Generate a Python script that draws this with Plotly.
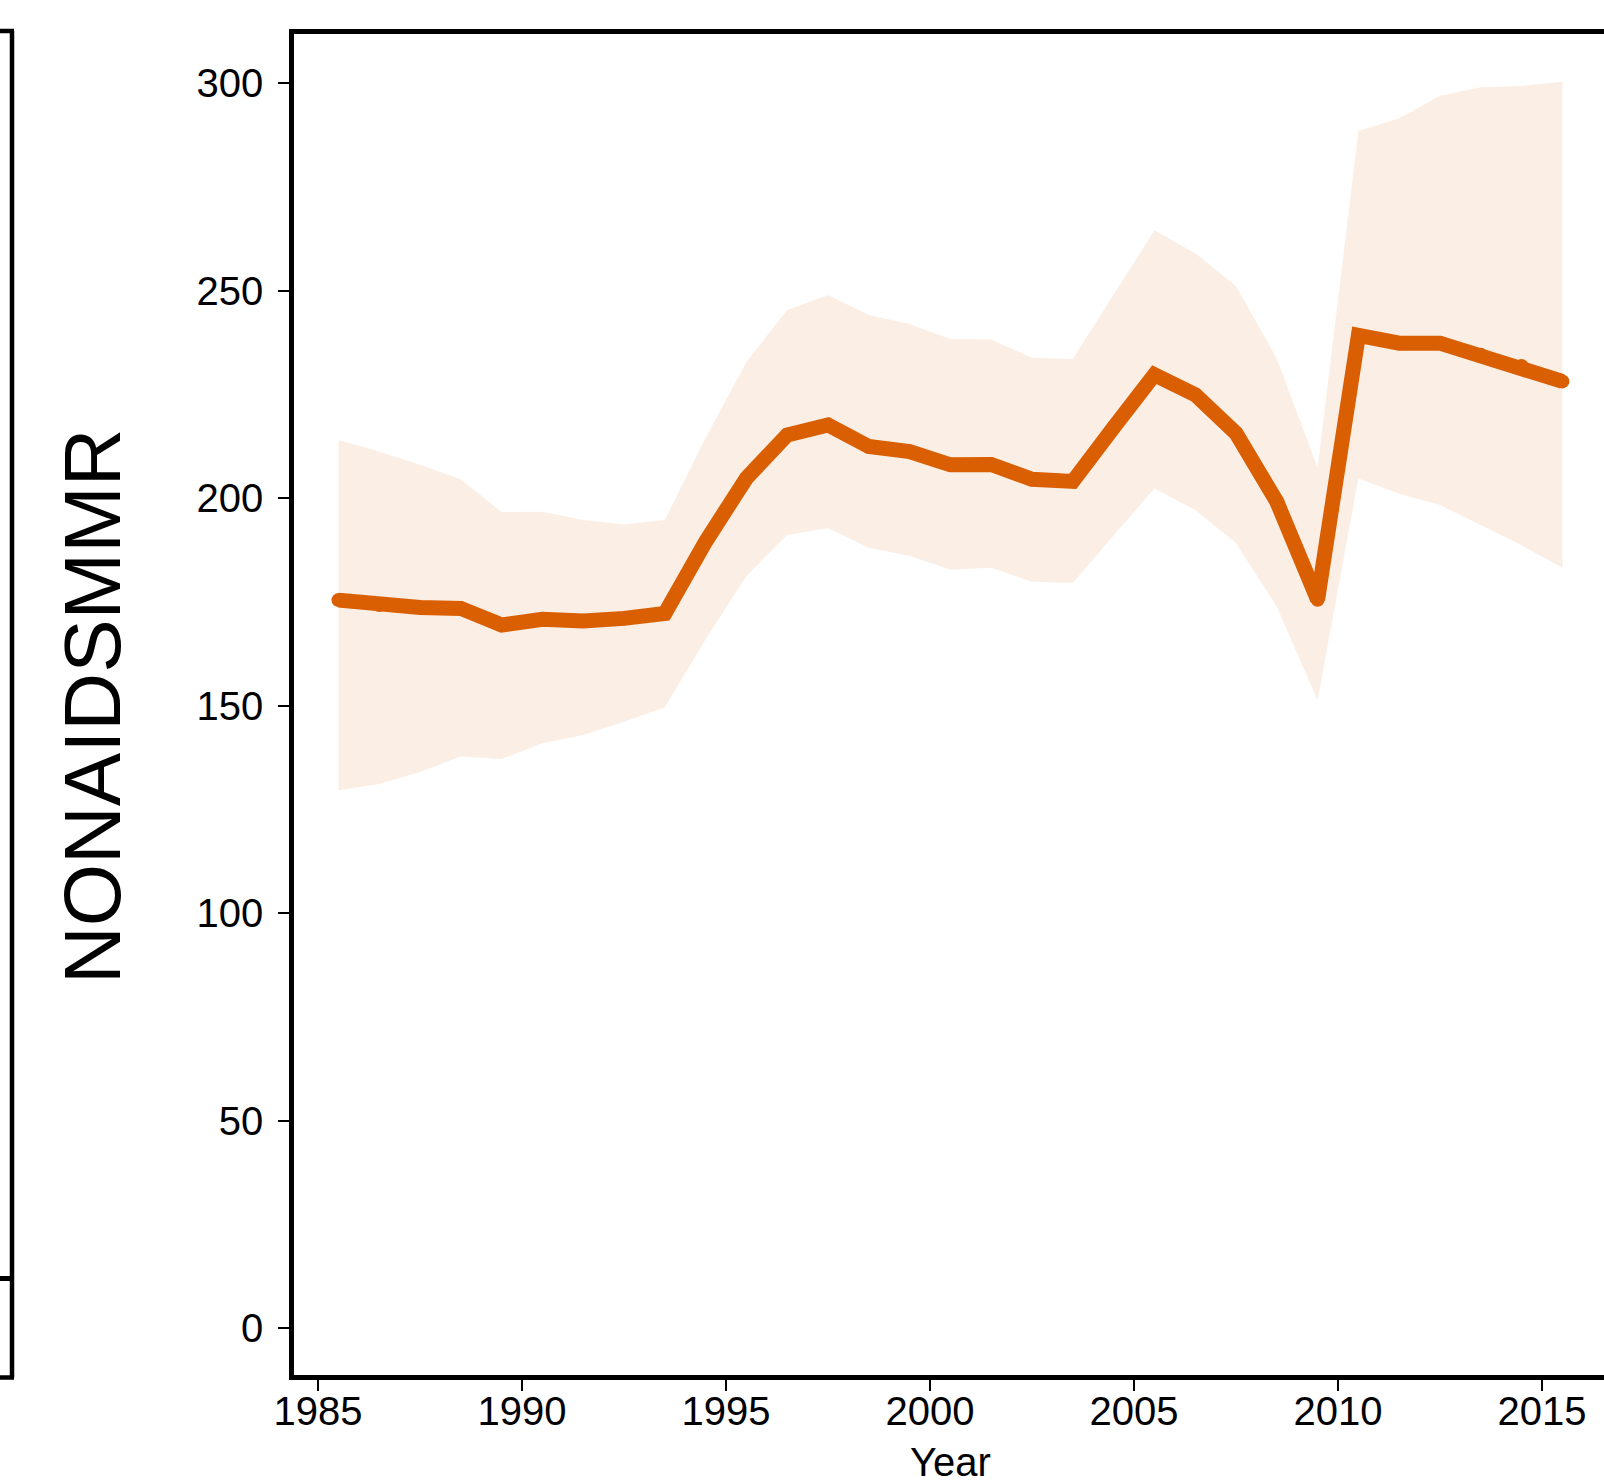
import plotly.graph_objects as go

# data
year = [1985.5, 1986.5, 1987.5, 1988.5, 1989.5, 1990.5, 1991.5, 1992.5, 1993.5, 1994.5,
        1995.5, 1996.5, 1997.5, 1998.5, 1999.5, 2000.5, 2001.5, 2002.5, 2003.5, 2004.5,
        2005.5, 2006.5, 2007.5, 2008.5, 2009.5, 2010.5, 2011.5, 2012.5, 2013.5, 2014.5, 2015.5]
mmr = [175.4, 174.2, 173.6, 173.4, 169.4, 170.8, 170.4, 171.0, 172.2, 189.5,
       204.8, 215.2, 217.6, 212.4, 211.2, 208.0, 208.1, 204.5, 204.0, 217.0,
       229.7, 224.9, 215.6, 199.1, 175.5, 239.2, 237.3, 237.3, 234.5, 231.8, 228.1]
mmr_hi = [214.0, 211.2, 208.0, 204.5, 196.6, 196.7, 194.7, 193.7, 194.7, 214.5,
          232.8, 245.3, 248.9, 244.1, 241.9, 238.3, 238.2, 233.8, 233.5, 249.0,
          264.5, 259.0, 251.1, 233.6, 207.3, 288.4, 291.5, 296.9, 299.0, 299.3, 300.3]
mmr_lo = [129.6, 131.1, 134.0, 137.7, 137.1, 140.9, 142.9, 146.1, 149.6, 166.0,
          181.2, 191.1, 192.7, 188.0, 186.0, 182.7, 183.2, 179.8, 179.6, 191.0,
          202.3, 197.1, 189.1, 173.8, 151.3, 204.7, 201.0, 198.3, 193.4, 188.6, 183.2]
xticks = [1985, 1990, 1995, 2000, 2005, 2010, 2015]
yticks = [0, 50, 100, 150, 200, 250, 300]

orange = "rgb(217,95,2)"
band = "rgba(217,95,2,0.1)"
FONT = "Liberation Sans, Arial, sans-serif"

# plot area in pixels
L, T, R, B = 294, 34, 1604, 1375
def px(x):
    return (x - L) / (R - L)
def py(y):
    return (B - y) / (B - T)

fig = go.Figure()
fig.add_trace(go.Scatter(x=year, y=mmr_lo, mode="lines", line=dict(width=0),
                         showlegend=False, hoverinfo="skip"))
fig.add_trace(go.Scatter(x=year, y=mmr_hi, mode="lines", line=dict(width=0),
                         fill="tonexty", fillcolor=band, showlegend=False, hoverinfo="skip"))
# markers about the line's width give it round joins and ends
fig.add_trace(go.Scatter(x=year, y=mmr, mode="lines+markers",
                         line=dict(color=orange, width=15),
                         marker=dict(color=orange, size=14, line=dict(width=0)),
                         showlegend=False))

fig.update_layout(width=1604, height=1484, plot_bgcolor="white", paper_bgcolor="white",
                  margin=dict(l=L, r=1604 - R, t=T, b=1484 - B),
                  font=dict(family=FONT, size=40, color="black"))
fig.update_xaxes(range=[1984.41, 2016.52], tickvals=xticks, ticktext=[str(v) for v in xticks],
                 showgrid=False, zeroline=False, showline=True, linecolor="black", linewidth=4.5,
                 mirror=True, ticks="outside", ticklen=11, tickwidth=1.5, tickcolor="black",
                 tickfont=dict(size=40), ticklabelstandoff=-14)
fig.update_yaxes(range=[-11.3, 311.8], tickvals=yticks, ticktext=[str(v) for v in yticks],
                 showgrid=False, zeroline=False, showline=True, linecolor="black", linewidth=4.5,
                 mirror=False, ticks="outside", ticklen=11, tickwidth=1.5, tickcolor="black",
                 tickfont=dict(size=40), ticklabelstandoff=7)

# axis titles
fig.add_annotation(text="Year", xref="paper", yref="paper", x=px(950), y=py(1438),
                   xanchor="center", yanchor="top", showarrow=False, font=dict(size=40))
fig.add_annotation(text="NONAIDSMMR", xref="paper", yref="paper", x=px(92), y=py(706),
                   xanchor="center", yanchor="middle", textangle=-90, showarrow=False,
                   font=dict(size=80))

# edge of the neighbouring panel on the left
frame = dict(color="black", width=4.5)
fig.add_shape(type="line", xref="paper", yref="paper", x0=px(12), x1=px(12), y0=py(31), y1=py(1377.5), line=frame)
fig.add_shape(type="line", xref="paper", yref="paper", x0=px(-5), x1=px(14), y0=py(31), y1=py(31), line=frame)
fig.add_shape(type="line", xref="paper", yref="paper", x0=px(-5), x1=px(14), y0=py(1377.5), y1=py(1377.5), line=frame)
fig.add_shape(type="line", xref="paper", yref="paper", x0=px(-5), x1=px(12), y0=py(1278.5), y1=py(1278.5),
              line=dict(color="black", width=5))

# drop the page's default body margin so the figure sits at the window's corner
fig.write_html("out.html", config={"displayModeBar": False},
               post_script="document.body.style.margin='0';")
